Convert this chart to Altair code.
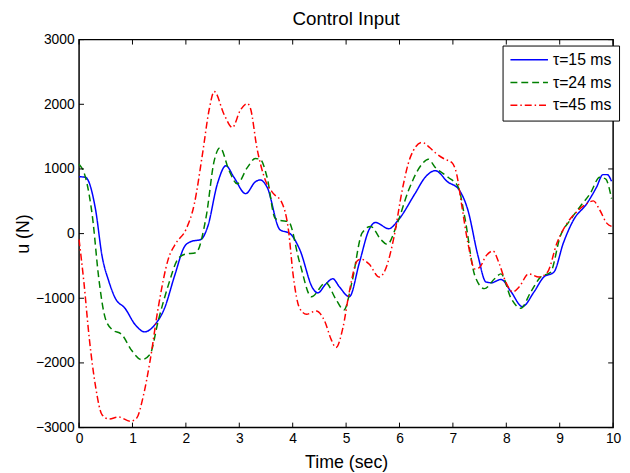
import altair as alt
import pandas as pd

# ---- data ----
series_names = ["τ=15 ms", "τ=24 ms", "τ=45 ms"]
series_colors = ["#0000FF", "#008000", "#FF0000"]

t15 = [0, 0.12, 0.31, 0.43, 0.56, 0.68, 0.86, 1.05, 1.23, 1.42, 1.6, 1.79, 1.98, 2.1,
       2.28, 2.41, 2.59, 2.75, 2.9, 3.12, 3.3, 3.39, 3.52, 3.76, 3.95, 4.13, 4.38, 4.47,
       4.62, 4.75, 4.88, 5.06, 5.25, 5.43, 5.55, 5.8, 5.98, 6.29, 6.48, 6.67, 6.91, 7.1,
       7.28, 7.47, 7.62, 7.72, 7.9, 8.09, 8.3, 8.52, 8.7, 8.89, 9.07, 9.26, 9.51, 9.69,
       9.81, 9.89, 9.97]
u15 = [880, 870, 365, -345, -745, -1003, -1155, -1408, -1520, -1408, -1155, -649, -193, -122,
       -91, 111, 770, 1049, 871, 618, 800, 830, 719, 61, 0, -243, -851, -917,
       -780, -699, -830, -977, -446, 61, 172, 76, 213, 618, 870, 973, 795, 694,
       365, -345, -749, -760, -709, -901, -1129, -901, -673, -597, -141, 213, 466, 719,
       912, 912, 810]

t24 = [0, 0.12, 0.25, 0.37, 0.49, 0.62, 0.8, 0.99, 1.17, 1.33, 1.48, 1.67, 1.85, 1.98,
       2.19, 2.38, 2.53, 2.64, 2.81, 2.96, 3.15, 3.3, 3.39, 3.52, 3.67, 3.76, 3.92, 4.13,
       4.35, 4.62, 4.8, 4.96, 5.11, 5.3, 5.46, 5.65, 5.77, 5.96, 6.17, 6.42, 6.54, 6.67,
       6.91, 7.1, 7.22, 7.41, 7.59, 7.78, 7.9, 8.09, 8.27, 8.46, 8.64, 8.83, 9.01, 9.2,
       9.38, 9.57, 9.75, 9.86, 9.97]
u24 = [1074, 871, 263, -699, -1307, -1485, -1561, -1813, -1950, -1864, -1357, -801, -395, -319,
       -294, 263, 1125, 1327, 973, 771, 1020, 1160, 1150, 871, 238, 203, 187, -446,
       -977, -760, -1003, -1180, -749, 10, 111, -91, -167, 162, 669, 1074, 1150, 1023,
       871, 719, 263, -649, -851, -699, -623, -1003, -1155, -901, -673, -597, -41, 213,
       415, 618, 871, 846, 542]

t45 = [0, 0.09, 0.19, 0.31, 0.43, 0.56, 0.74, 0.96, 1.08, 1.2, 1.33, 1.48, 1.67, 1.82,
       2.0, 2.16, 2.31, 2.44, 2.53, 2.72, 2.87, 3.02, 3.15, 3.21, 3.33, 3.49, 3.64, 3.79,
       3.92, 4.01, 4.13, 4.26, 4.44, 4.6, 4.72, 4.81, 4.94, 5.06, 5.21, 5.28, 5.43, 5.62,
       5.74, 5.9, 6.05, 6.2, 6.42, 6.57, 6.67, 6.85, 6.98, 7.07, 7.16, 7.28, 7.41, 7.5,
       7.62, 7.75, 7.87, 7.99, 8.12, 8.24, 8.42, 8.61, 8.77, 8.95, 9.14, 9.32, 9.51, 9.63,
       9.75, 9.88, 9.97]
u45 = [-91, -750, -1611, -2371, -2802, -2868, -2837, -2903, -2852, -2523, -1965, -1155, -395, -141,
       61, 466, 1226, 1935, 2199, 1834, 1641, 1910, 2011, 1935, 1327, 821, 618, 491,
       61, -649, -1155, -1246, -1196, -1357, -1636, -1763, -1459, -901, -421, -395, -471, -673,
       -547, -41, 669, 1175, 1410, 1327, 1251, 1150, 1099, 922, 466, -141, -547, -522,
       -345, -269, -471, -750, -901, -825, -623, -673, -597, -141, 162, 339, 466, 506,
       365, 162, 111]

x_ticks = [0, 1, 2, 3, 4, 5, 6, 7, 8, 9, 10]
y_ticks = [-3000, -2000, -1000, 0, 1000, 2000, 3000]

rows = []
for name, ts, us in zip(series_names, [t15, t24, t45], [u15, u24, u45]):
    for t, u in zip(ts, us):
        rows.append({"t": t, "u": u, "series": name})
df = pd.DataFrame(rows)
xt_df = pd.DataFrame({"v": x_ticks})
yt_df = pd.DataFrame({"v": y_ticks})

FONT = "Liberation Sans"
W, H = 541, 393
TICK = 5

xscale = alt.Scale(domain=[0, 10], nice=False, zero=False)
yscale = alt.Scale(domain=[-3000, 3000], nice=False, zero=False)

common_axis = dict(grid=False, domain=False, ticks=False, labelColor="black", titleColor="black",
                   labelFont=FONT, titleFont=FONT, labelFontSize=14, titleFontSize=18,
                   titleFontWeight="normal", format="d")
x_axis = alt.Axis(orient="bottom", values=x_ticks, title="Time (sec)",
                  labelPadding=4, titlePadding=8, labelFlush=False, **common_axis)
y_axis = alt.Axis(orient="left", values=y_ticks, title="u (N)",
                  labelPadding=5, titlePadding=3, **common_axis)

lines = alt.Chart(df).mark_line(strokeWidth=1.5, interpolate="monotone").encode(
    x=alt.X("t:Q", scale=xscale, axis=x_axis),
    y=alt.Y("u:Q", scale=yscale, axis=y_axis),
    color=alt.Color("series:N", scale=alt.Scale(domain=series_names, range=series_colors),
                    legend=alt.Legend(title=None)),
    strokeDash=alt.StrokeDash("series:N",
                              scale=alt.Scale(domain=series_names,
                                              range=[[1, 0], [7, 4], [7, 3, 1.5, 3]]),
                              legend=alt.Legend(title=None)),
    detail="series:N",
)

# inward ticks on all four sides (MATLAB box style)
xb = alt.Chart(xt_df).mark_rule(color="black", strokeWidth=1).encode(
    x=alt.X("v:Q", scale=xscale, axis=x_axis), y=alt.value(H), y2=alt.value(H - TICK))
xtop = alt.Chart(xt_df).mark_rule(color="black", strokeWidth=1).encode(
    x=alt.X("v:Q", scale=xscale, axis=x_axis), y=alt.value(0), y2=alt.value(TICK))
yl = alt.Chart(yt_df).mark_rule(color="black", strokeWidth=1).encode(
    y=alt.Y("v:Q", scale=yscale, axis=y_axis), x=alt.value(0), x2=alt.value(TICK))
yr = alt.Chart(yt_df).mark_rule(color="black", strokeWidth=1).encode(
    y=alt.Y("v:Q", scale=yscale, axis=y_axis), x=alt.value(W), x2=alt.value(W - TICK))

chart = alt.layer(lines, xb, xtop, yl, yr).properties(
    width=W, height=H,
    title=alt.TitleParams("Control Input", font=FONT, fontSize=19, fontWeight="normal",
                          color="black", anchor="middle", offset=4),
    autosize=alt.AutoSizeParams(type="none"),
    padding={"left": 72, "top": 29, "right": 9, "bottom": 44},
).configure_view(
    stroke="black", strokeWidth=1.5
).configure_legend(
    orient="none", legendX=429, legendY=6, fillColor="white", strokeColor="black",
    padding=7, rowPadding=6, clipHeight=15, symbolSize=1444, symbolStrokeWidth=1.5,
    labelFont=FONT, labelFontSize=16, labelColor="black", labelOffset=4, symbolType="stroke",
)

chart.save("out.html", embed_options={"renderer": "svg", "actions": False})
